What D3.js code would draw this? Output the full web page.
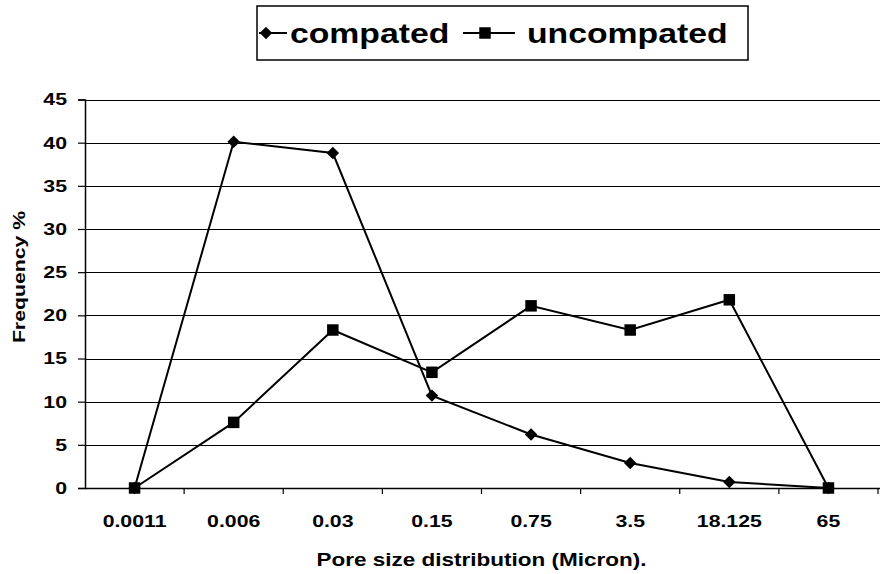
<!DOCTYPE html>
<html><head><meta charset="utf-8">
<script src="https://cdn.jsdelivr.net/npm/d3@7"></script>
<style>body{margin:0;background:#fff}svg{display:block}text{font-family:"Liberation Sans",Arial,sans-serif;font-weight:bold;fill:#000}</style>
</head><body><svg id="c" width="882" height="574"></svg>
<script>
const categories = ["0.0011","0.006","0.03","0.15","0.75","3.5","18.125","65"];
const compated = [0, 40.1, 38.8, 10.7, 6.2, 2.9, 0.7, 0];
const uncompated = [0, 7.6, 18.3, 13.4, 21.1, 18.3, 21.8, 0];
const yTicks = [0,5,10,15,20,25,30,35,40,45];
const seriesNames = ["compated","uncompated"];

(function(){
const SX = 1.25;
const svg = d3.select("#c");
const pLeft = 85, pRight = 878, pTop = 99.5, pBottom = 488;
const x = d3.scaleBand().domain(categories).range([pLeft, pRight]);
const y = d3.scaleLinear().domain([0,45]).range([pBottom, pTop]);

// gridlines
svg.append("g").selectAll("line").data(yTicks.filter(d=>d>0)).join("line")
  .attr("x1", pLeft).attr("x2", 880).attr("y1", d=>Math.round(y(d))+0.5).attr("y2", d=>Math.round(y(d))+0.5)
  .attr("stroke","#000").attr("stroke-width",1);

// y axis
const ya = svg.append("g").attr("transform",`translate(${pLeft},0)`)
  .call(d3.axisLeft(y).tickValues(yTicks).tickSize(7).tickPadding(11));
ya.select(".domain").attr("stroke-width",1.5);
ya.selectAll(".tick line").attr("stroke-width",1.2);
ya.selectAll("text").style("font-size","17px").attr("font-family",null)
  .attr("x", -18/SX).attr("transform",`scale(${SX},1)`);

// x axis
const xa = svg.append("g").attr("transform",`translate(0,${pBottom})`)
  .call(d3.axisBottom(x).tickSize(0).tickPadding(0));
xa.attr("font-family",null);
ya.attr("font-family",null);
xa.select(".domain").attr("d",`M${pLeft},0.5H880`).attr("stroke-width",1.5);
xa.selectAll("text").style("font-size","17px")
  .attr("y", 39).attr("dy", null).attr("x", 0).attr("transform",`scale(${SX},1)`);
// boundary ticks
const bounds = categories.map(c=>x(c)).concat([x(categories[categories.length-1])+x.bandwidth()]);
xa.append("g").selectAll("line").data(bounds.slice(1)).join("line")
  .attr("x1",d=>d).attr("x2",d=>d).attr("y1",0).attr("y2",6).attr("stroke","#000").attr("stroke-width",1.2);

// lines
const cx = c => x(c) + x.bandwidth()/2;
const line = d3.line().x((d,i)=>cx(categories[i])).y(d=>y(d));
svg.append("path").datum(compated).attr("d",line).attr("fill","none").attr("stroke","#000").attr("stroke-width",2);
svg.append("path").datum(uncompated).attr("d",line).attr("fill","none").attr("stroke","#000").attr("stroke-width",2);

const diamond = d3.symbol().type(d3.symbolSquare).size(78);
const square = d3.symbol().type(d3.symbolSquare).size(132);
svg.append("g").selectAll("path").data(uncompated).join("path")
  .attr("d",square).attr("transform",(d,i)=>`translate(${cx(categories[i])},${y(d)})`).attr("fill","#000");
svg.append("g").selectAll("path").data(compated).join("path")
  .attr("d",diamond).attr("transform",(d,i)=>`translate(${cx(categories[i])},${y(d)}) rotate(45)`).attr("fill","#000");

// axis titles
svg.append("text").attr("transform",`translate(19,277) rotate(-90) scale(${SX},1)`)
  .attr("text-anchor","middle").attr("dominant-baseline","central").style("font-size","17px").text("Frequency %");
svg.append("text").attr("transform",`translate(${(pLeft+pRight)/2},566) scale(${SX},1)`)
  .attr("text-anchor","middle").style("font-size","18px").text("Pore size distribution (Micron).");

// legend
const lg = svg.append("g");
lg.append("rect").attr("x",257).attr("y",6).attr("width",491).attr("height",54)
  .attr("fill","#fff").attr("stroke","#000").attr("stroke-width",1.5);
lg.append("line").attr("x1",259).attr("x2",287).attr("y1",33).attr("y2",33).attr("stroke","#000").attr("stroke-width",2);
lg.append("path").attr("d",diamond).attr("transform","translate(266,33) rotate(45)");
lg.append("text").attr("transform",`translate(290,43) scale(${SX},1)`).style("font-size","27px").text(seriesNames[0]);
lg.append("line").attr("x1",463).attr("x2",515).attr("y1",33).attr("y2",33).attr("stroke","#000").attr("stroke-width",2);
lg.append("path").attr("d",square).attr("transform","translate(485,33)");
lg.append("text").attr("transform",`translate(527,43) scale(${SX},1)`).style("font-size","27px").text(seriesNames[1]);
})();
</script></body></html>
